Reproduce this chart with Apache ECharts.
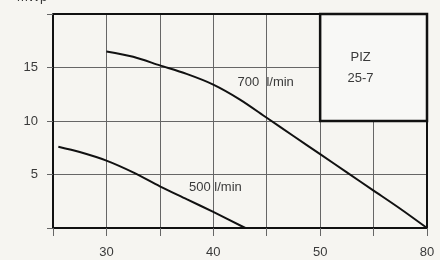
<!DOCTYPE html>
<html>
<head>
<meta charset="utf-8">
<script src="https://cdn.jsdelivr.net/npm/echarts@6/dist/echarts.min.js"></script>
<style>
	html,body{margin:0;padding:0;background:#f6f5f1;}
	#chart{width:440px;height:260px;}
</style>
</head>
<body>
<div id="chart"></div>
<script>
// Förderstrom (x) und Förderhöhe (y)
var xTickLabels = {30:'30', 40:'40', 50:'50', 60:'80'};
var yTickLabels = {5:'5', 10:'10', 15:'15'};

var curve700 = [[30,16.5],[32.5,16.0],[35,15.2],[37.5,14.4],[40,13.4],[42.5,12.0],[45,10.3],[47.5,8.6],[50,6.9],[52.5,5.2],[55,3.5],[57.5,1.8],[60,0]];
var curve500 = [[25.5,7.6],[27.5,7.1],[30,6.3],[32.5,5.2],[35,3.9],[37.5,2.7],[40,1.5],[43,0]];

var label700 = [44.9,13.6];
var label500 = [40.2,3.8];
var typeBox = [[50,10],[60,20]];
var typeName = 'PIZ\n25-7';
var unitName = 'mWp';

window.onload=function(){
	var myChart = echarts.init(document.getElementById('chart'));

	var textCol = '#3a3a3a';
	var gridCol = '#666';
	var font = 'Liberation Sans';

	option = {
		backgroundColor: '#f6f5f1',
		animation: false,
		grid: {left: 53, right: 13, top: 14, bottom: 32},
		graphic: [{
			type: 'text',
			left: 17,
			top: -9,
			style: {text: unitName, fill: textCol, font: '13px "Liberation Sans"'}
		}],
		xAxis: {
			type: 'value',
			min: 25,
			max: 60,
			interval: 5,
			axisLine: {show: true, onZero: false, lineStyle: {color: '#111', width: 2}},
			axisTick: {show: true, length: 8, lineStyle: {color: gridCol, width: 1}},
			splitLine: {show: true, lineStyle: {color: gridCol, width: 1}},
			axisLabel: {
				color: textCol,
				fontFamily: font,
				fontSize: 13,
				margin: 18,
				formatter: function(v){ return xTickLabels[v] || ''; }
			}
		},
		yAxis: {
			type: 'value',
			min: 0,
			max: 20,
			interval: 5,
			axisLine: {show: true, lineStyle: {color: '#111', width: 2}},
			axisTick: {show: true, length: 6, lineStyle: {color: gridCol, width: 1}},
			splitLine: {show: true, lineStyle: {color: gridCol, width: 1}},
			axisLabel: {
				color: textCol,
				fontFamily: font,
				fontSize: 13,
				margin: 15,
				formatter: function(v){ return yTickLabels[v] || ''; }
			}
		},
		series: [
		{
			name: 'rahmen',
			type: 'line',
			data: [],
			markArea: {
				silent: true,
				itemStyle: {color: '#f8f8f6', borderColor: '#111', borderWidth: 2.5},
				label: {
					show: true,
					position: 'inside',
					offset: [-13, 0],
					color: textCol,
					fontFamily: font,
					fontSize: 13,
					lineHeight: 21,
					align: 'center',
					formatter: typeName
				},
				data: [[{coord: typeBox[0]}, {coord: typeBox[1]}]]
			},
			markLine: {
				silent: true,
				symbol: 'none',
				lineStyle: {color: '#111', width: 2, type: 'solid'},
				label: {show: false},
				data: [
					[{coord: [25,20]}, {coord: [60,20]}],
					[{coord: [60,0]}, {coord: [60,20]}]
				]
			}
		},
		{
			name: '700 l/min',
			type: 'line',
			smooth: 0.3,
			symbol: 'none',
			data: curve700,
			lineStyle: {color: '#111', width: 2},
			markPoint: {
				symbol: 'circle',
				symbolSize: 0,
				label: {show: true, color: textCol, fontFamily: font, fontSize: 13, formatter: '700  l/min'},
				data: [{coord: label700}]
			}
		},
		{
			name: '500 l/min',
			type: 'line',
			smooth: 0.3,
			symbol: 'none',
			data: curve500,
			lineStyle: {color: '#111', width: 2},
			markPoint: {
				symbol: 'circle',
				symbolSize: 0,
				label: {show: true, color: textCol, fontFamily: font, fontSize: 13, formatter: '500 l/min'},
				data: [{coord: label500}]
			}
		}
		]
	};

	myChart.setOption(option);
}
</script>
</body>
</html>
